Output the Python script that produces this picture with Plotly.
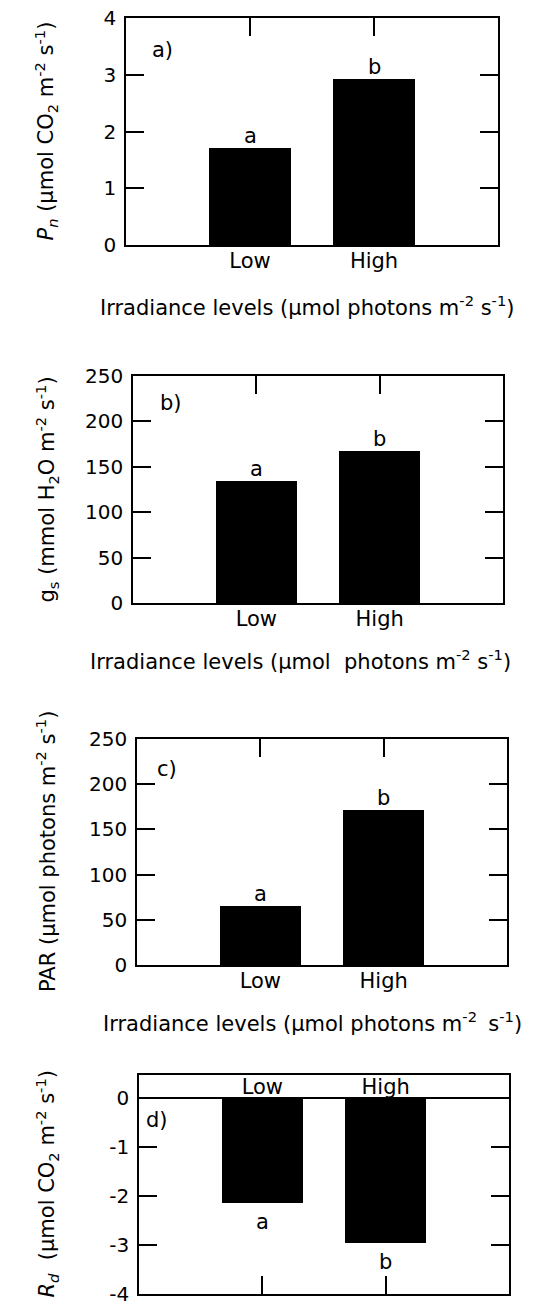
import plotly.graph_objects as go

# ---------------- data ----------------
categories = ["Low", "High"]
pn_values = [1.71, 2.93]       # a) Pn
gs_values = [134, 167]         # b) gs
par_values = [65, 172]         # c) PAR
rd_values = [-2.13, -2.96]     # d) Rd
letters = ["a", "b"]
panel_tags = ["a)", "b)", "c)", "d)"]
rd_tickvals = [0, -1, -2, -3, -4]
rd_ticktext = ["0", "-1", "-2", "-3", "-4"]

y_titles = [
    "<i>P<sub>n</sub></i> (µmol CO<sub>2</sub> m<sup>-2</sup> s<sup>-1</sup>)",
    "g<sub>s</sub> (mmol H<sub>2</sub>O m<sup>-2</sup> s<sup>-1</sup>)",
    "PAR (µmol photons m<sup>-2</sup> s<sup>-1</sup>)",
    "<i>R<sub>d</sub></i>  (µmol CO<sub>2</sub> m<sup>-2</sup> s<sup>-1</sup>)",
]
x_titles = [
    "Irradiance levels (µmol photons m<sup>-2</sup> s<sup>-1</sup>)",
    "Irradiance levels (µmol  photons m<sup>-2</sup> s<sup>-1</sup>)",
    "Irradiance levels (µmol photons m<sup>-2 </sup> s<sup>-1</sup>)",
]

# ---------------- layout helpers ----------------
W, H = 541, 1308
FONT = "DejaVu Sans"
FS = 20


def xd(l, r):
    return [l / W, r / W]


def yd(t, b):
    return [1 - b / H, 1 - t / H]


boxes = [  # left, right, top, bottom in pixels
    (126, 498, 18, 245),
    (133, 503, 376, 603),
    (137, 507, 739, 965),
    (139, 509, 1075, 1294),
]
y_ranges = [[0, 4], [0, 250], [0, 250], [-4, 0.48]]
y_dticks = [1, 50, 50, 1]
values = [pn_values, gs_values, par_values, rd_values]

fig = go.Figure()

axis_common = dict(
    showline=True, linecolor="black", linewidth=1.5,
    ticks="inside", ticklen=18, tickwidth=1.5, tickcolor="black",
    showgrid=False, zeroline=False, automargin=False,
    ticklabeloverflow="allow",
    tickfont=dict(family=FONT, size=FS, color="black"),
)

layout = dict(
    width=W, height=H,
    margin=dict(l=0, r=0, t=0, b=0, autoexpand=False),
    paper_bgcolor="white", plot_bgcolor="white",
    showlegend=False,
    font=dict(family=FONT, size=FS, color="black"),
    bargap=0,
)

annotations = []

for i, (vals, box) in enumerate(zip(values, boxes)):
    n = i + 1
    xs = "x" if n == 1 else f"x{n}"
    ys = "y" if n == 1 else f"y{n}"
    fig.add_trace(go.Bar(
        x=categories, y=vals, xaxis=xs, yaxis=ys,
        marker=dict(color="black", line=dict(width=0)),
        width=0.66,
    ))
    l, r, t, b = box
    xa = dict(axis_common)
    xa.update(domain=xd(l, r), anchor=ys, type="category",
              range=[-1, 2], tickfont=dict(family=FONT, size=21, color="black"),
              ticklabelstandoff=-4)
    ya = dict(axis_common)
    ya.update(domain=yd(t, b), anchor=xs, range=y_ranges[i],
              mirror="ticks", ticklabelstandoff=4)
    if n < 4:
        xa.update(mirror="ticks")
        ya.update(dtick=y_dticks[i], tick0=0)
    else:
        xa.update(mirror=True, showticklabels=False)
        ya.update(tickmode="array", tickvals=rd_tickvals, ticktext=rd_ticktext,
                  zeroline=True, zerolinecolor="black", zerolinewidth=1.5)
    layout["xaxis" if n == 1 else f"xaxis{n}"] = xa
    layout["yaxis" if n == 1 else f"yaxis{n}"] = ya

    # significance letters
    for cat, v, let in zip(categories, vals, letters):
        if v >= 0:
            annotations.append(dict(x=cat, y=v, xref=xs, yref=ys, text=let,
                                    showarrow=False, yanchor="bottom", yshift=-2,
                                    font=dict(family=FONT, size=21)))
        else:
            annotations.append(dict(x=cat, y=v, xref=xs, yref=ys, text=let,
                                    showarrow=False, yanchor="top", yshift=-5,
                                    font=dict(family=FONT, size=21)))

    # y-axis title
    annotations.append(dict(x=46 / W, y=1 - ((t + b) / 2) / H, xref="paper", yref="paper",
                            text=y_titles[i], textangle=-90, showarrow=False,
                            xanchor="center", yanchor="middle",
                            font=dict(family=FONT, size=21)))

# invisible helper trace so the zero-level category axis of panel d is drawn
fig.add_trace(go.Bar(
    x=categories, y=rd_values, xaxis="x5", yaxis="y4",
    marker=dict(color="rgba(0,0,0,0)", line=dict(width=0)),
    width=0.66, hoverinfo="skip",
))

# zero-level category labels for panel d
l, r, t, b = boxes[3]
zero_px = t + (b - t) * y_ranges[3][1] / (y_ranges[3][1] - y_ranges[3][0])
layout["xaxis5"] = dict(
    overlaying="x4", anchor="free", position=1 - zero_px / H, side="top",
    domain=xd(l, r), range=[-1, 2], type="category",
    showline=False, ticks="", showgrid=False, zeroline=False, automargin=False,
    ticklabelstandoff=0, ticklabeloverflow="allow",
    tickfont=dict(family=FONT, size=21, color="black"),
)

# panel tags
tag_pos = [(162, 50), (171, 403), (167, 769), (157, 1120)]
for tag, (px, py) in zip(panel_tags, tag_pos):
    annotations.append(dict(x=px / W, y=1 - py / H, xref="paper", yref="paper",
                            text=tag, showarrow=False, xanchor="center", yanchor="middle",
                            font=dict(family=FONT, size=21)))

# x-axis titles
xt_pos = [(307, 306), (300, 660), (312, 1022)]
for txt, (px, py) in zip(x_titles, xt_pos):
    annotations.append(dict(x=px / W, y=1 - py / H, xref="paper", yref="paper",
                            text=txt, showarrow=False, xanchor="center", yanchor="middle",
                            font=dict(family=FONT, size=21)))

layout["annotations"] = annotations
fig.update_layout(**layout)
fig.write_html("out.html")
